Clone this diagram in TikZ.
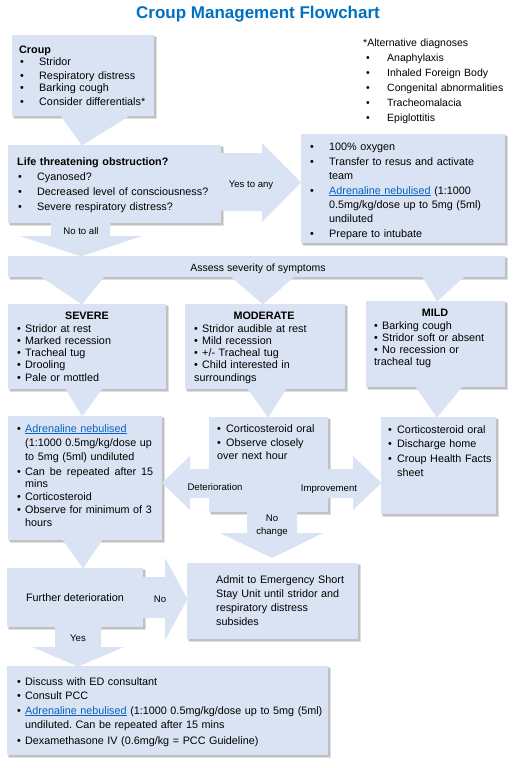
\documentclass[tikz,border=0pt]{standalone}
\usepackage{fontspec}
\setmainfont{Liberation Sans}
\definecolor{bxfill}{RGB}{218,227,243}
\definecolor{ttl}{RGB}{0,112,192}
\definecolor{lnkc}{RGB}{5,99,193}
\newcommand\lnk[1]{\textcolor{lnkc}{\underline{#1}}}
\newcommand\bu[2]{\makebox[#1][l]{\textbullet}#2}
\frenchspacing
\tikzset{
  body/.style={font=\fontsize{10.8}{13}\selectfont, inner sep=0pt, anchor=base west, text width=330pt, align=left},
  lbl/.style={font=\fontsize{9.6}{12}\selectfont, inner sep=0pt, anchor=base},
  hdr/.style={font=\bfseries\fontsize{10.8}{13}\selectfont, inner sep=0pt, anchor=base},
  bx/.style={fill=bxfill},
  shd/.style={fill=black, opacity=0.13},
}
\begin{document}
\begin{tikzpicture}[x=1pt,y=-1pt]
\useasboundingbox (0,0) rectangle (516,768);
\fill[white] (0,0) rectangle (516,768);
% shadows
\foreach \a/\b/\c/\d in {12/35/154/116, 8/145/221/223, 301/134/505/243, 8/256/505/277, 8/304/166/389, 185/304/345/389, 366/301/505/387, 8/416/162/540, 209/417/328/512, 381/417/496/514, 7/568/143/627, 187/563/358/639, 7/666/328/755}{
  \fill[shd] (\a+1,\b+1) rectangle (\c+1.5,\d+1.5);
  \fill[shd] (\a+2,\b+2) rectangle (\c+2.5,\d+2.5);
}
% boxes
\foreach \a/\b/\c/\d in {12/35/154/116, 8/145/221/223, 301/134/505/243, 8/256/505/277, 8/304/166/389, 185/304/345/389, 366/301/505/387, 8/416/162/540, 209/417/328/512, 381/417/496/514, 7/568/143/627, 187/563/358/639, 7/666/328/755}{
  \fill[bx] (\a,\b) rectangle (\c,\d);
}
% callout wedges and block arrows
\fill[bx] (60,115) -- (82,145.5) -- (131,115) -- cycle;
\fill[bx] (220,153) -- (262,153) -- (262,143) -- (301,182.5) -- (262,222) -- (262,211) -- (220,211) -- cycle;
\fill[bx] (51,222) -- (51,236) -- (20,236) -- (81,256.5) -- (142,236) -- (110,236) -- (110,222) -- cycle;
\fill[bx] (40,276) -- (82,304.5) -- (105,276) -- cycle;
\fill[bx] (230,276) -- (263,304.5) -- (295,276) -- cycle;
\fill[bx] (422,276) -- (437,301.5) -- (465,276) -- cycle;
\fill[bx] (65,388) -- (82,416.5) -- (103,388) -- cycle;
\fill[bx] (247,388) -- (268,417.5) -- (287,388) -- cycle;
\fill[bx] (415,386) -- (437,417.5) -- (463,386) -- cycle;
\fill[bx] (210,469) -- (190,469) -- (190,456) -- (162,483) -- (190,510) -- (190,498) -- (210,498) -- cycle;
\fill[bx] (327,469) -- (353,469) -- (353,456) -- (381.5,483) -- (353,510) -- (353,498) -- (327,498) -- cycle;
\fill[bx] (247,511) -- (247,533) -- (220,533) -- (272,558) -- (323,533) -- (297,533) -- (297,511) -- cycle;
\fill[bx] (62,539) -- (83,568.5) -- (103,539) -- cycle;
\fill[bx] (142,577) -- (165,577) -- (165,558) -- (187.5,599) -- (165,640) -- (165,618) -- (142,618) -- cycle;
\fill[bx] (55,626) -- (55,647) -- (32,647) -- (78,666.5) -- (124,647) -- (101,647) -- (101,626) -- cycle;

% title
\node[anchor=base, font=\bfseries\fontsize{17}{20}\selectfont, text=ttl, inner sep=0pt] (title) at (258,18.5) {Croup Management Flowchart};

% texts
\node[body] (croupT) at (20,53) {\hspace*{-1pt}\textbf{Croup}\\
\bu{19pt}{Stridor}\\
\bu{19pt}{Respiratory distress}\\
\bu{19pt}{Barking cough}\\
\bu{19pt}{Consider differentials*}};

\node[body, font=\fontsize{10.5}{15}\selectfont] (altT) at (363,47) {*Alternative diagnoses\\
\hspace*{3pt}\bu{21pt}{Anaphylaxis}\\
\hspace*{3pt}\bu{21pt}{Inhaled Foreign Body}\\
\hspace*{3pt}\bu{21pt}{Congenital abnormalities}\\
\hspace*{3pt}\bu{21pt}{Tracheomalacia}\\
\hspace*{3pt}\bu{21pt}{Epiglottitis}};

\node[body, font=\fontsize{10.8}{15}\selectfont] (lifeT) at (18,165) {\hspace*{-1pt}\textbf{Life threatening obstruction?}\\
\bu{19pt}{Cyanosed?}\\
\bu{19pt}{Decreased level of consciousness?}\\
\bu{19pt}{Severe respiratory distress?}};

\node[body, font=\fontsize{10.8}{14}\selectfont] (oxyT) at (310,150) {\bu{19pt}{100\% oxygen}\\[1pt]
\bu{19pt}{Transfer to resus and activate}\\
\hspace*{19pt}team\\[1pt]
\bu{19pt}{\lnk{Adrenaline nebulised} (1:1000}\\
\hspace*{19pt}0.5mg/kg/dose up to 5mg (5ml)\\
\hspace*{19pt}undiluted\\[1pt]
\bu{19pt}{Prepare to intubate}};

\node[lbl] (yesany) at (251,187) {Yes to any};
\node[lbl] (noall) at (81,234) {No to all};

\node[anchor=base, font=\fontsize{10.5}{12}\selectfont, inner sep=0pt] (assessT) at (258,271) {Assess severity of symptoms};

\node[hdr] (sevH) at (87,319) {SEVERE};
\node[hdr] (modH) at (264,319) {MODERATE};
\node[hdr] (mildH) at (435,316) {MILD};

\node[body, font=\fontsize{10.8}{12.2}\selectfont] (sevT) at (17,332) {\bu{8pt}{Stridor at rest}\\
\bu{8pt}{Marked recession}\\
\bu{8pt}{Tracheal tug}\\
\bu{8pt}{Drooling}\\[0.5pt]
\bu{8pt}{Pale or mottled}};

\node[body, font=\fontsize{10.8}{12.2}\selectfont] (modT) at (194,332) {\bu{8pt}{Stridor audible at rest}\\
\bu{8pt}{Mild recession}\\
\bu{8pt}{+/- Tracheal tug}\\
\bu{8pt}{Child interested in}\\[0.5pt]
surroundings};

\node[body, font=\fontsize{10.8}{12}\selectfont] (mildT) at (374,329) {\bu{8pt}{Barking cough}\\
\bu{8pt}{Stridor soft or absent}\\
\bu{8pt}{No recession or}\\
tracheal tug};

\node[body, font=\fontsize{10.8}{13}\selectfont] (sevtxT) at (17,432) {\bu{8pt}{\lnk{Adrenaline nebulised}}\\[1pt]
\hspace*{8pt}(1:1000 0.5mg/kg/dose up\\[1pt]
\hspace*{8pt}to 5mg (5ml) undiluted\\[2pt]
\bu{8pt}{\makebox[128pt][s]{Can\hfill be\hfill repeated\hfill after\hfill 15}}\\[-1pt]
\hspace*{8pt}mins\\
\bu{8pt}{Corticosteroid}\\
\bu{8pt}{Observe for minimum of 3}\\
\hspace*{8pt}hours};

\node[body, font=\fontsize{10.8}{13}\selectfont] (modtxT) at (217,432) {\bu{9pt}{Corticosteroid oral}\\[1pt]
\bu{9pt}{Observe closely}\\
over next hour};

\node[body, font=\fontsize{10.8}{14.5}\selectfont] (mildtxT) at (388,433) {\bu{9pt}{Corticosteroid oral}\\
\bu{9pt}{Discharge home}\\
\bu{9pt}{Croup Health Facts}\\
\hspace*{9pt}sheet};

\node[lbl] (detT) at (215,490) {Deterioration};
\node[lbl] (impT) at (329,491) {Improvement};
\node[lbl] (nochA) at (272,521) {No};
\node[lbl] (nochB) at (272,534) {change};

\node[anchor=base, font=\fontsize{10.8}{13}\selectfont, inner sep=0pt] (furtherT) at (75,601) {Further deterioration};
\node[lbl] (noT) at (160,602) {No};
\node[lbl] (yesT) at (78,641) {Yes};

\node[body, font=\fontsize{10.8}{14.3}\selectfont] (admitT) at (216,583) {Admit to Emergency Short\\
Stay Unit until stridor and\\
respiratory distress\\
subsides};

\node[body, font=\fontsize{10.8}{14.5}\selectfont] (finalT) at (17,685) {\bu{8pt}{Discuss with ED consultant}\\
\bu{8pt}{Consult PCC}\\
\bu{8pt}{\lnk{Adrenaline nebulised} (1:1000 0.5mg/kg/dose up to 5mg (5ml)}\\
\hspace*{8pt}undiluted. Can be repeated after 15 mins\\[1pt]
\bu{8pt}{Dexamethasone IV (0.6mg/kg = PCC Guideline)}};
\end{tikzpicture}
\end{document}
